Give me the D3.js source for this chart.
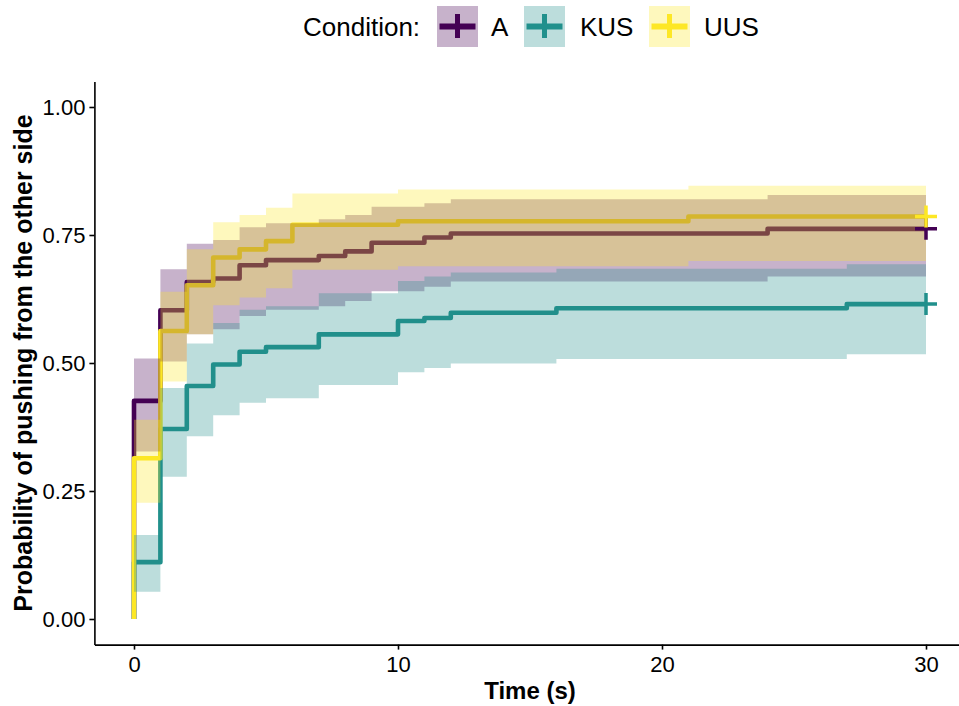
<!DOCTYPE html>
<html>
<head>
<meta charset="utf-8">
<script src="https://cdn.jsdelivr.net/npm/d3@7"></script>
<style>
  body { margin: 0; background: #fff; }
  svg { display: block; font-family: "Liberation Sans", Arial, sans-serif; }
</style>
</head>
<body>
<div id="chart"></div>
<script>
var width = 959;
var height = 706;

var groups = ["A", "KUS", "UUS"];
var colors = ["#440154", "#21908C", "#FDE725"];
var xTicks = [0, 10, 20, 30];
var yTicks = [0, 0.25, 0.5, 0.75, 1];
var endTime = 30;

// A
var timeA = [0, 1, 2, 3, 4, 5, 7, 8, 9, 11, 12, 24];
var probA = [0.426, 0.603, 0.658, 0.665, 0.691, 0.701, 0.709, 0.718, 0.735, 0.745, 0.753, 0.762];
var upperA = [0.509, 0.683, 0.733, 0.740, 0.765, 0.773, 0.781, 0.789, 0.805, 0.812, 0.820, 0.828];
var lowerA = [0.327, 0.503, 0.556, 0.566, 0.592, 0.604, 0.611, 0.621, 0.640, 0.649, 0.659, 0.669];

// KUS
var timeKUS = [0, 1, 2, 3, 4, 5, 7, 10, 11, 12, 16, 27];
var probKUS = [0.111, 0.371, 0.455, 0.497, 0.522, 0.531, 0.556, 0.582, 0.588, 0.598, 0.607, 0.615];
var upperKUS = [0.164, 0.451, 0.538, 0.578, 0.604, 0.611, 0.636, 0.660, 0.669, 0.677, 0.684, 0.693];
var lowerKUS = [0.053, 0.278, 0.357, 0.398, 0.4225, 0.431, 0.457, 0.482, 0.490, 0.499, 0.508, 0.517];

// UUS
var timeUUS = [0, 1, 2, 3, 4, 5, 6, 10, 21];
var probUUS = [0.314, 0.5625, 0.652, 0.706, 0.722, 0.738, 0.770, 0.777, 0.786];
var upperUUS = [0.389, 0.639, 0.722, 0.775, 0.789, 0.803, 0.831, 0.839, 0.846];
var lowerUUS = [0.227, 0.464, 0.556, 0.613, 0.628, 0.646, 0.682, 0.689, 0.699];

var series = [
  { time: timeA, prob: probA, upper: upperA, lower: lowerA },
  { time: timeKUS, prob: probKUS, upper: upperKUS, lower: lowerKUS },
  { time: timeUUS, prob: probUUS, upper: upperUUS, lower: lowerUUS }
].map(function(s, i) {
  var pts = s.time.map(function(t, j) {
    return { t: t, p: s.prob[j], hi: s.upper[j], lo: s.lower[j] }
  })
  var last = pts[pts.length - 1]
  pts.push({ t: endTime, p: last.p, hi: last.hi, lo: last.lo })
  return { name: groups[i], color: colors[i], pts: pts }
})

var svg = d3.select("#chart").append("svg")
  .attr("width", width)
  .attr("height", height)

var x = d3.scaleLinear().domain([-1.5, 31.5]).range([94.4, 965.6])
var y = d3.scaleLinear().domain([-0.05, 1.05]).range([644.6, 81.4])

var line = d3.line()
  .x(function(d) { return x(d.t) })
  .y(function(d) { return y(d.p) })
  .curve(d3.curveStepAfter)

var area = d3.area()
  .x(function(d) { return x(d.t) })
  .y0(function(d) { return y(d.lo) })
  .y1(function(d) { return y(d.hi) })
  .curve(d3.curveStepAfter)

// step lines first, ribbons drawn over them
svg.append("g").selectAll("path")
  .data(series)
  .enter().append("path")
  .attr("d", function(d) { return line([{ t: 0, p: 0 }].concat(d.pts)) })
  .attr("fill", "none")
  .attr("stroke", function(d) { return d.color })
  .attr("stroke-width", 4.6)
  .attr("stroke-linejoin", "round")

svg.append("g").selectAll("path")
  .data(series)
  .enter().append("path")
  .attr("d", function(d) { return area(d.pts) })
  .attr("fill", function(d) { return d.color })
  .attr("fill-opacity", 0.3)

// censor marks
svg.append("g").selectAll("path")
  .data(series)
  .enter().append("path")
  .attr("transform", function(d) {
    var l = d.pts[d.pts.length - 1]
    return "translate(" + x(l.t) + "," + y(l.p) + ")"
  })
  .attr("d", "M-11,0H11M0,-11V11")
  .attr("stroke", function(d) { return d.color })
  .attr("stroke-width", 3.5)

// axes
svg.append("g")
  .attr("transform", "translate(" + x(-1.5) + ",0)")
  .call(d3.axisLeft(y).tickValues(yTicks).tickFormat(d3.format(".2f")).tickSize(5).tickSizeOuter(0).tickPadding(4))

svg.append("g")
  .attr("transform", "translate(0," + y(-0.05) + ")")
  .call(d3.axisBottom(x).tickValues(xTicks).tickSize(5).tickSizeOuter(0).tickPadding(7))

svg.selectAll(".domain, .tick line")
  .attr("stroke", "#000")
  .attr("stroke-width", 1.6)

svg.selectAll(".tick text")
  .attr("font-size", "22px")
  .attr("fill", "#000")
  .attr("font-family", "Liberation Sans, Arial, sans-serif")

svg.append("text")
  .attr("x", 530)
  .attr("y", 699)
  .attr("text-anchor", "middle")
  .attr("font-size", "24px")
  .attr("font-weight", "bold")
  .text("Time (s)")

svg.append("text")
  .attr("transform", "translate(32," + y(0.5) + ") rotate(-90)")
  .attr("text-anchor", "middle")
  .attr("font-size", "25px")
  .attr("font-weight", "bold")
  .text("Probability of pushing from the other side")

// legend
var legend = svg.append("g")

legend.append("text")
  .attr("x", 303)
  .attr("y", 36)
  .attr("font-size", "26px")
  .text("Condition:")

var keyX = [437, 524, 649]
var labelX = [491, 580, 704]

var keys = legend.selectAll("g.key")
  .data(series)
  .enter().append("g")
  .attr("class", "key")
  .attr("transform", function(d, i) { return "translate(" + keyX[i] + ",6)" })

keys.append("rect")
  .attr("width", 41)
  .attr("height", 41)
  .attr("fill", function(d) { return d.color })
  .attr("fill-opacity", 0.3)

keys.append("path")
  .attr("d", "M2.5,20.5H38.5")
  .attr("stroke", function(d) { return d.color })
  .attr("stroke-width", 6)

keys.append("path")
  .attr("d", "M20.5,8V32")
  .attr("stroke", function(d) { return d.color })
  .attr("stroke-width", 5)

legend.selectAll("text.label")
  .data(series)
  .enter().append("text")
  .attr("class", "label")
  .attr("x", function(d, i) { return labelX[i] })
  .attr("y", 36)
  .attr("font-size", "26px")
  .text(function(d) { return d.name })
</script>
</body>
</html>
